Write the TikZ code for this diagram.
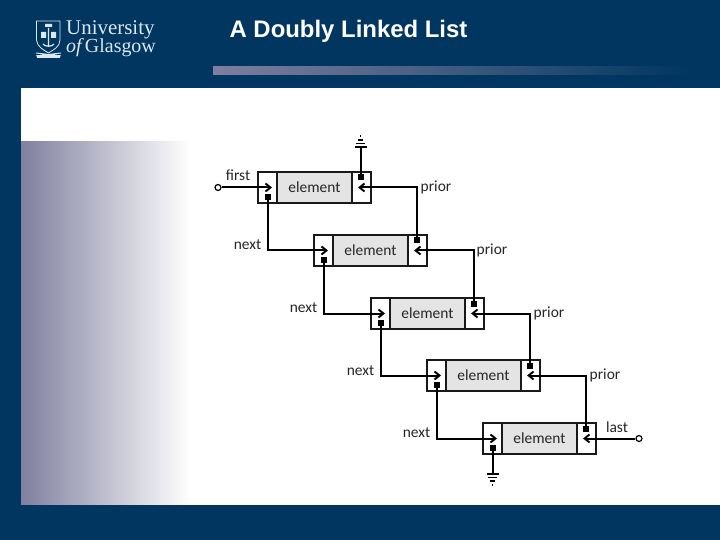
\documentclass[tikz,border=0pt]{standalone}
\usepackage{fontspec}
\setmainfont{Liberation Sans}
\newfontfamily\labfont{Carlito}
\newfontfamily\logofont{Liberation Serif}
\usetikzlibrary{arrows.meta}
\definecolor{navy}{HTML}{003660}
\definecolor{slate}{HTML}{7F7F9F}
\definecolor{cellgray}{HTML}{E4E4E4}
\definecolor{logoc}{HTML}{DCE8F0}
\tikzset{
  cellbox/.style={draw=black!90,line width=1.6bp,fill=white,minimum height=31bp,inner sep=0pt,outer sep=0pt},
  elembox/.style={cellbox,fill=cellgray,minimum width=75bp,font=\labfont\fontsize{15.5}{16}\selectfont,text=black!85},
  sidebox/.style={cellbox,minimum width=19bp},
  pin/.style={fill=black,inner sep=0pt,minimum size=6bp,outer sep=0pt},
  lab/.style={font=\labfont\fontsize{15.5}{16}\selectfont,text=black!85,inner sep=0pt},
  link/.style={line width=2bp,-{Straight Barb[length=5bp,width=8bp,line width=1.9bp]}},
  tie/.style={line width=2bp},
  openend/.style={circle,draw=black,line width=1.2bp,fill=white,inner sep=0pt,minimum size=6bp},
  gbar/.style={line width=1.6bp},
}
\begin{document}
\begin{tikzpicture}[x=1bp,y=-1bp]
\useasboundingbox (0,0) rectangle (720,540);
\fill[navy] (0,0) rectangle (720,540);
\fill[white] (21,88) rectangle (720,505);
\shade[left color=slate,right color=white] (21,141.5) rectangle (190,505);
\fill[navy] (21,505) rectangle (200,507);
\shade[left color=slate,right color=navy] (213,66.5) rectangle (690,74.5);
\node[font=\bfseries\fontsize{24}{26}\selectfont,text=white,inner sep=0pt] (title) at (348.5,31) {A Doubly Linked List};
% logo
\draw[logoc,line width=.8bp] (36.5,21) -- (60,21) -- (60,40) .. controls (60,47) and (53,50) .. (48.5,53) .. controls (44,50) and (37,47) .. (36.5,40) -- cycle;
\fill[logoc] (41,32) rectangle (46,38) (51,32) rectangle (56,38) (45,24) rectangle (52,27);
\draw[logoc,line width=1.2bp] (48.5,28) -- (48.5,46) (43,44) .. controls (45,47) and (52,47) .. (54,44);
\draw[logoc,line width=1bp] (36,53) -- (61,56) (61,53) -- (36,56);
\fill[logoc] (37,55) rectangle (60,58);
\node[font=\logofont\fontsize{21}{18}\selectfont,text=logoc,inner sep=0pt,anchor=north west,align=left] (uni) at (66,20) {University\\[-1pt]{\fontsize{20}{18}\selectfont\textit{of}\kern1pt Glasgow}};
% boxes
\foreach \i/\xo/\yo in {0/258/172,1/314/235,2/371/298,3/427/360,4/483/423}{
  \node[sidebox,anchor=north west] (L\i) at (\xo,\yo) {};
  \node[elembox,anchor=north west] (E\i) at (\xo+19,\yo) {\raisebox{1.5pt}{element}};
  \node[sidebox,anchor=north west] (R\i) at (\xo+94,\yo) {};
  \node[pin] (PN\i) at (\xo+9.5,\yo+25) {};
  \node[pin] (PP\i) at (\xo+102.5,\yo+5.5) {};
  \coordinate (TN\i) at (\xo+14,\yo+15.5);
  \coordinate (TP\i) at (\xo+100,\yo+15.5);
}
% next and prior links
\foreach \a/\b in {0/1,1/2,2/3,3/4}{
  \draw[link] (PN\a.center) |- (TN\b);
  \draw[link] (PP\b.center) |- (TP\a);
}
% free ends
\node[openend] (firstend) at (218,187.5) {};
\node[openend] (lastend) at (639,438.5) {};
\draw[link] (firstend) -- (TN0);
\draw[link] (lastend) -- (TP4);
% grounds
\coordinate (gt) at (360.5,148);
\coordinate (gb) at (492.5,473);
\draw[tie] (PP0.center) -- (gt);
\draw[tie] (PN4.center) -- (gb);
\draw[gbar] (354.5,147) -- (366.5,147);
\draw[gbar] (356,143.5) -- (365,143.5);
\draw[gbar] (358,140) -- (363,140);
\draw[gbar] (359.8,136.2) -- (361.2,136.2);
\draw[gbar] (486.5,474) -- (498.5,474);
\draw[gbar] (488,477.5) -- (497,477.5);
\draw[gbar] (490,481) -- (495,481);
\draw[gbar] (491.8,484.8) -- (493.2,484.8);
% labels
\node[lab] (first) at (238,175.5) {first};
\node[lab] (last) at (617,427) {last};
\foreach \i/\xo/\yo in {0/0/0,1/56/63,2/113/126,3/169/188}{
  \node[lab] (nx\i) at (247.5+\xo,244.5+\yo) {next};
  \node[lab] (pr\i) at (436+\xo,187+\yo) {prior};
}
\end{tikzpicture}
\end{document}
